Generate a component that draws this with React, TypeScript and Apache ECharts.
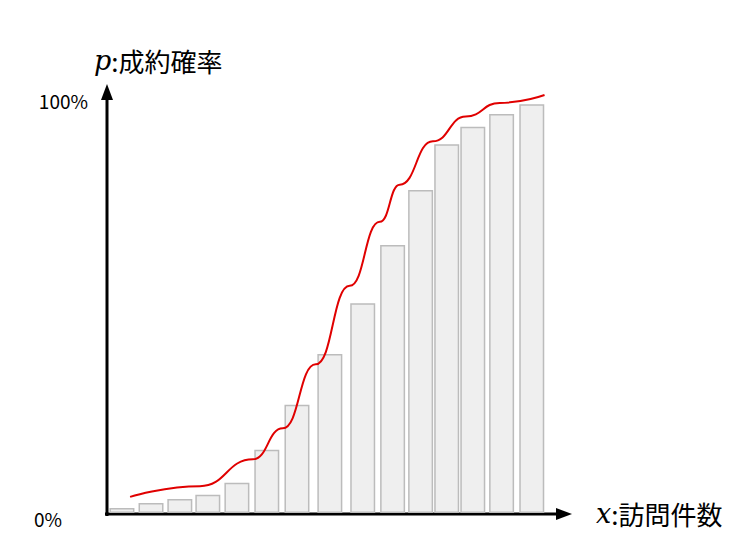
import React, { useEffect, useRef } from "react";
import * as echarts from "echarts";

const barX = [0.55, 1.62, 2.68, 3.71, 4.78, 5.88, 6.99, 8.2, 9.41, 10.51, 11.54, 12.5, 13.46, 14.52, 15.63];
const barValues = [1.2, 2.4, 3.4, 4.4, 7.3, 15.3, 26.2, 38.5, 50.8, 64.9, 78.2, 89.3, 93.5, 96.6, 99.0];
const curveX = [0.85, 3.42, 5.37, 6.47, 7.68, 8.93, 10.04, 10.77, 11.99, 13.2, 14.45, 16.1];
const curveY = [3.9, 6.5, 13.0, 20.5, 36.0, 55.0, 70.5, 79.5, 90.0, 96.0, 99.3, 101.2];
const yLabels = ["0%", "100%"];

export default function App() {
  const ref = useRef<HTMLDivElement>(null);
  useEffect(() => {
    const chart = echarts.init(ref.current!, null, { renderer: "svg" });
    const font = "'Noto Sans CJK JP', 'Noto Sans', sans-serif";
    chart.setOption({
      animation: false,
      grid: { left: 99, top: 92, width: 462, height: 413 },
      xAxis: { type: "value", min: 0, max: 17, show: false },
      yAxis: { type: "value", min: 0, max: 100, show: false },
      series: [
        {
          type: "bar",
          data: barX.map((x, i) => [x, barValues[i]]),
          barWidth: 25,
          itemStyle: { color: "#efefef", borderColor: "#bcbcbc", borderWidth: 1.5 },
        },
        {
          type: "line",
          data: curveX.map((x, i) => [x, curveY[i]]),
          smooth: 0.5,
          smoothMonotone: "x",
          symbol: "none",
          clip: false,
          lineStyle: { color: "#e00000", width: 2 },
        },
      ],
      graphic: [
        { type: "line", shape: { x1: 99, y1: 508, x2: 99, y2: 88 }, style: { stroke: "#000", lineWidth: 3 } },
        { type: "polygon", shape: { points: [[99, 76], [93, 92], [105, 92]] }, style: { fill: "#000" } },
        { type: "line", shape: { x1: 97, y1: 506, x2: 552, y2: 506 }, style: { stroke: "#000", lineWidth: 3 } },
        { type: "polygon", shape: { points: [[564, 506], [548, 500], [548, 512]] }, style: { fill: "#000" } },
        { type: "text", x: 80, y: 92, style: { text: yLabels[1], font: `19px ${font}`, fill: "#000", textAlign: "right", textVerticalAlign: "middle" } },
        { type: "text", x: 26, y: 510, style: { text: yLabels[0], font: `19px ${font}`, fill: "#000", textAlign: "left", textVerticalAlign: "middle" } },
        {
          type: "text", x: 86, y: 52,
          style: {
            text: "{i|p}{n|:成約確率}", textVerticalAlign: "middle",
            rich: {
              i: { font: `italic 27px 'DejaVu Serif', serif`, fill: "#000" },
              n: { font: `26px ${font}`, fill: "#000" },
            },
          },
        },
        {
          type: "text", x: 588, y: 505,
          style: {
            text: "{i|x}{n|:訪問件数}", textVerticalAlign: "middle",
            rich: {
              i: { font: `italic 27px 'DejaVu Serif', serif`, fill: "#000" },
              n: { font: `26px ${font}`, fill: "#000" },
            },
          },
        },
      ],
    });
    return () => chart.dispose();
  }, []);
  return <div ref={ref} style={{ width: 728, height: 531 }} />;
}
